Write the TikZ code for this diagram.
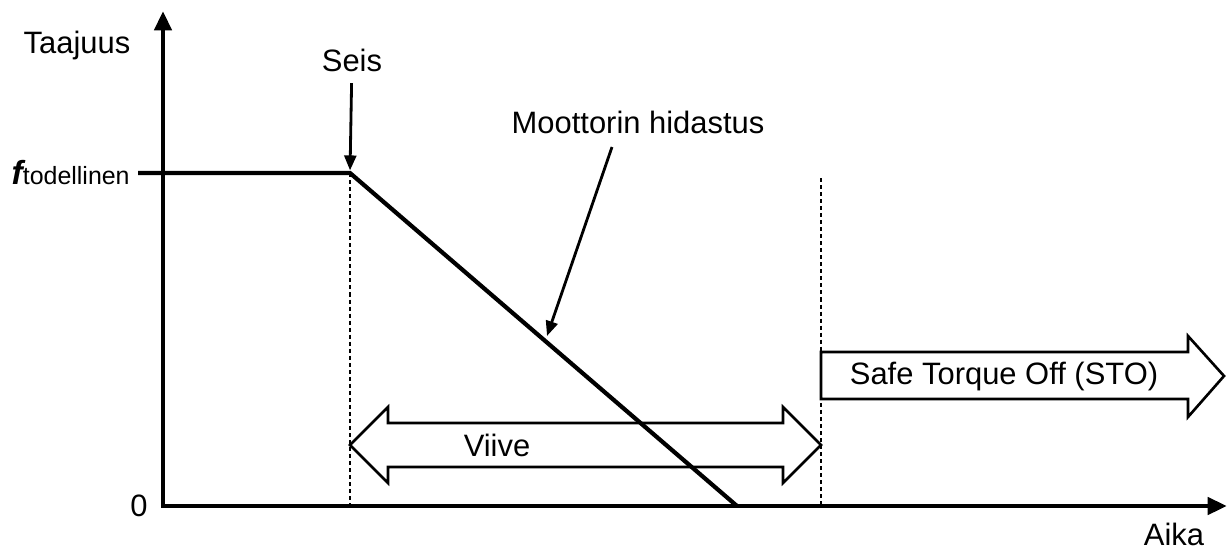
\documentclass[tikz,border=0pt]{standalone}
\usepackage{fontspec}
\setmainfont{Liberation Sans}
\usetikzlibrary{arrows.meta,positioning}

\begin{document}
\begin{tikzpicture}[x=0.02cm,y=-0.02cm,
    axis/.style={line width=2.7pt,{Triangle[length=11pt,width=9.6pt]}-{Triangle[length=11pt,width=9.6pt]}},
    curve/.style={line width=2.4pt},
    guide/.style={line width=1.4pt,dash pattern=on 2.3pt off 1.7pt},
    pointer/.style={line width=1.6pt,-{Triangle[length=8.5pt,width=6.8pt]}},
    outline/.style={line width=1.5pt},
    lbl/.style={font=\fontsize{17.6}{20}\selectfont,inner sep=0pt}]
  \useasboundingbox (0,0) rectangle (1227,549);
  \coordinate (o) at (163,506);
  \coordinate (ytop) at (163,11);
  \coordinate (xend) at (1227,506);
  \coordinate (ftick) at (138,173);
  \coordinate (stop) at (350,173);
  \coordinate (zero) at (737,506);
  \coordinate (sto) at (821,178);
  \coordinate (mhtail) at (612,147);
  \coordinate (mhtip) at (547,336);
  % akselit
  \draw[axis] (ytop) -- (o) -- (xend);
  \node[lbl] (taajuus) at (77,45) {Taajuus};
  \node[lbl] (aika) at (1174,534) {Aika};
  \node[lbl,left=0.3cm of o] (nolla) {0};
  \node[lbl,left=0.16cm of ftick] (fnimi)
    {{\fontsize{19}{20}\selectfont\bfseries\itshape f}{\fontsize{14.2}{16}\selectfont todellinen}};
  % nopeus
  \draw[guide] (stop) -- (stop |- o);
  \draw[guide] (sto) -- (sto |- o);
  \draw[curve] (ftick) -- (stop) -- (zero);
  \node[lbl] (seis) at (352,60) {Seis};
  \draw[pointer,shorten <=6.5pt,shorten >=1.5pt] (seis) -- (stop);
  \node[lbl] (mh) at (638,122) {Moottorin hidastus};
  \draw[pointer] (mhtail) -- (mhtip);
  % viive ja STO
  \draw[outline] (350,445) -- (388,407) -- (388,423) -- (783,423) -- (783,407) -- (821,445)
    -- (783,483) -- (783,467) -- (388,467) -- (388,483) -- cycle;
  \node[lbl] (viive) at (497,445) {Viive};
  \draw[outline] (821,352) -- (1188,352) -- (1188,336) -- (1224,376) -- (1188,417)
    -- (1188,399) -- (821,399) -- cycle;
  \node[lbl] (stoteksti) at (1004,376) {Safe Torque Off (STO)};
\end{tikzpicture}
\end{document}
